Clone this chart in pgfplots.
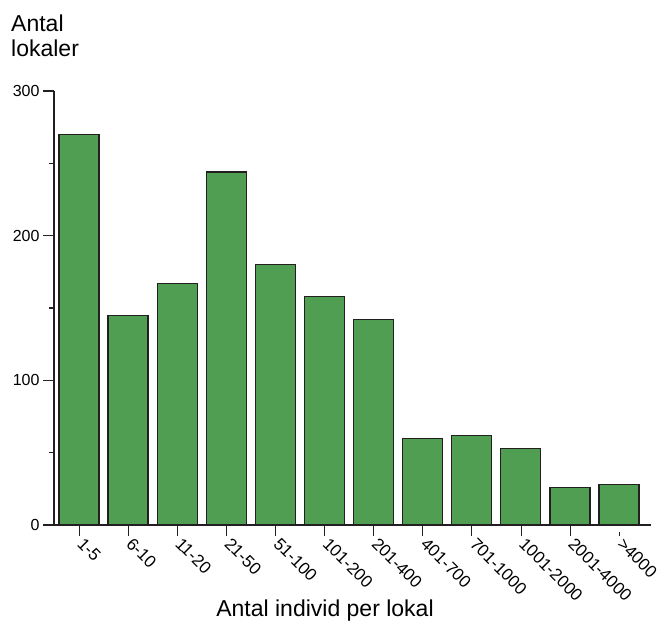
\documentclass[border=0pt]{standalone}
\usepackage{fontspec}
\setmainfont{Liberation Sans}
\usepackage{pgfplots}
\pgfplotsset{compat=1.18}
\definecolor{bargreen}{HTML}{4F9E52}
\definecolor{axisdark}{HTML}{231F20}
\begin{document}
\begin{tikzpicture}
\begin{axis}[
  scale only axis,
  width=597pt, height=434pt,
  xmin=-0.509, xmax=11.65,
  ymin=0, ymax=300,
  axis x line*=bottom, axis y line*=left,
  axis line style={axisdark, line width=1.4pt, -},
  ytick={0,100,200,300},
  minor ytick={50,150,250},
  xtick={0,...,11},
  xticklabels={1-5,6-10,11-20,21-50,51-100,101-200,201-400,401-700,701-1000,1001-2000,2001-4000,>4000},
  major tick length=11pt, minor tick length=5pt,
  tick align=outside,
  x tick style={axisdark, line width=0.6pt, shorten >=7pt},
  y tick style={axisdark, line width=1.5pt},
  /pgf/number format/assume math mode=true,
  yticklabel style={font=\fontsize{16}{18}\selectfont},
  xticklabel style={font=\fontsize{17}{19}\selectfont, rotate=-45, anchor=north west, xshift=1pt, yshift=7pt},
  clip=false,
]
\addplot[ybar, bar width=40pt, fill=bargreen, draw=axisdark, line width=1.2pt]
  coordinates {(0,270) (1,145) (2,167) (3,244) (4,180) (5,158) (6,142) (7,60) (8,62) (9,53) (10,26) (11,28)};
\node[anchor=south west, inner sep=0pt, align=left, font=\fontsize{23}{25}\selectfont]
  at ([xshift=-43pt, yshift=34pt]rel axis cs:0,1) {Antal\\lokaler};
\node[anchor=base, inner sep=0pt, font=\fontsize{23}{25}\selectfont]
  at ([xshift=271pt, yshift=-92pt]rel axis cs:0,0) {Antal individ per lokal};
\coordinate (bl) at ([xshift=-54pt, yshift=-97pt]rel axis cs:0,0);
\coordinate (tr) at ([xshift=605pt, yshift=91pt]rel axis cs:0,1);
\end{axis}
\pgfresetboundingbox
\path[use as bounding box] (bl) rectangle (tr);
\end{tikzpicture}
\end{document}
